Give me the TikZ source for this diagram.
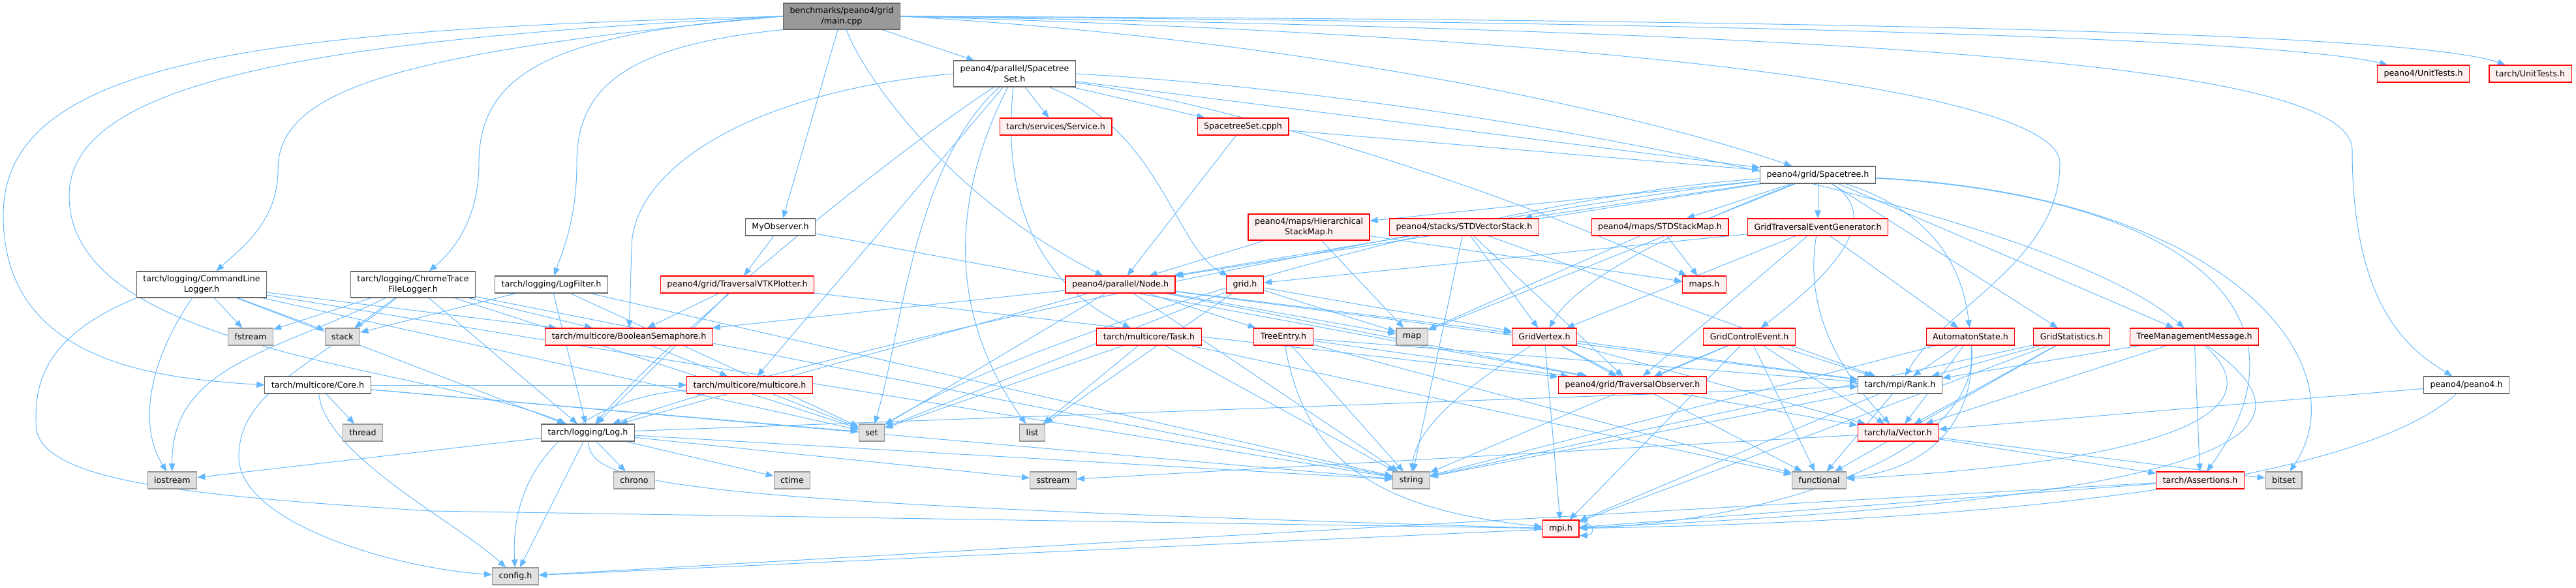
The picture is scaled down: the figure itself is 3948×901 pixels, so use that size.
\documentclass[tikz,border=0pt]{standalone}
\usepackage{fontspec}
\setmainfont{DejaVu Sans}
\usepackage{xcolor}
\usepackage{tikz}
\usetikzlibrary{arrows.meta,backgrounds}
\definecolor{edgeblue}{HTML}{63B8FF}
\definecolor{redfill}{HTML}{FFF0F0}
\definecolor{sysfill}{HTML}{E0E0E0}
\tikzset{
  basenode/.style={rectangle, line width=0.65pt, inner xsep=0.2cm, inner ysep=0pt, minimum height=0.52cm, align=center, font=\fontsize{7.2}{9.4}\selectfont},
  mainnode/.style={basenode, draw=black!60, fill=black!40},
  filenode/.style={basenode, draw=black!60, fill=white},
  incnode/.style={basenode, draw=red, fill=redfill},
  sysnode/.style={basenode, draw=black!40, fill=sysfill},
  twoline/.style={minimum height=0.8cm},
  dep/.style={-{Triangle[length=0.24cm,width=0.19cm]}, line width=0.55pt, draw=edgeblue, fill=none}
}

\begin{document}
\begin{tikzpicture}[x=0.02cm, y=-0.02cm]
\useasboundingbox (0,0) rectangle (3948,901);
\node[mainnode, twoline] (mainfile) at (1290,25) {benchmarks/peano4/grid\\/main.cpp};
\node[filenode, twoline] (sts) at (1555,113) {peano4/parallel/Spacetree\\Set.h};
\node[incnode] (service) at (1618,194) {tarch/services/Service.h};
\node[incnode] (stscpph) at (1905,194) {SpacetreeSet.cpph};
\node[filenode] (spacetree) at (2786,268) {peano4/grid/Spacetree.h};
\node[incnode] (punit) at (3714,113) {peano4/UnitTests.h};
\node[incnode] (tunit) at (3878,113) {tarch/UnitTests.h};
\node[filenode] (myobs) at (1196,348) {MyObserver.h};
\node[incnode, twoline] (hsm) at (2006,348) {peano4/maps/Hierarchical\\StackMap.h};
\node[incnode] (stdvs) at (2244,348) {peano4/stacks/STDVectorStack.h};
\node[incnode] (stdsm) at (2544,348) {peano4/maps/STDStackMap.h};
\node[incnode] (gteg) at (2786,348) {GridTraversalEventGenerator.h};
\node[filenode, twoline] (cll) at (309,436) {tarch/logging/CommandLine\\Logger.h};
\node[filenode, twoline] (ctl) at (633,436) {tarch/logging/ChromeTrace\\FileLogger.h};
\node[filenode] (logfilter) at (845,436) {tarch/logging/LogFilter.h};
\node[incnode] (vtk) at (1130,436) {peano4/grid/TraversalVTKPlotter.h};
\node[incnode] (node) at (1717,436) {peano4/parallel/Node.h};
\node[incnode] (gridh) at (1908,436) {grid.h};
\node[incnode] (mapsh) at (2612,436) {maps.h};
\node[sysnode] (fstream) at (384,516) {fstream};
\node[sysnode] (stack) at (525,516) {stack};
\node[incnode] (boolsem) at (964,516) {tarch/multicore/BooleanSemaphore.h};
\node[incnode] (task) at (1761,516) {tarch/multicore/Task.h};
\node[incnode] (treeentry) at (1967,516) {TreeEntry.h};
\node[sysnode] (map) at (2164,516) {map};
\node[incnode] (gridvertex) at (2367,516) {GridVertex.h};
\node[incnode] (gce) at (2681,516) {GridControlEvent.h};
\node[incnode] (automaton) at (3020,516) {AutomatonState.h};
\node[incnode] (gridstats) at (3175,516) {GridStatistics.h};
\node[incnode] (tmm) at (3363,516) {TreeManagementMessage.h};
\node[filenode] (core) at (487,590) {tarch/multicore/Core.h};
\node[incnode] (multicore) at (1149,590) {tarch/multicore/multicore.h};
\node[incnode] (observer) at (2502,590) {peano4/grid/TraversalObserver.h};
\node[filenode] (rank) at (2912,590) {tarch/mpi/Rank.h};
\node[filenode] (peanoh) at (3780,590) {peano4/peano4.h};
\node[sysnode] (thread) at (556,663) {thread};
\node[filenode] (log) at (901,663) {tarch/logging/Log.h};
\node[sysnode] (set) at (1336,663) {set};
\node[sysnode] (list) at (1582,663) {list};
\node[incnode] (vector) at (2909,663) {tarch/la/Vector.h};
\node[sysnode] (iostream) at (264,736) {iostream};
\node[sysnode] (chrono) at (972,736) {chrono};
\node[sysnode] (ctime) at (1214,736) {ctime};
\node[sysnode] (sstream) at (1614,736) {sstream};
\node[sysnode] (string) at (2163,736) {string};
\node[sysnode] (functional) at (2788,736) {functional};
\node[incnode] (assertions) at (3372,736) {tarch/Assertions.h};
\node[sysnode] (bitset) at (3500,736) {bitset};
\node[incnode] (mpi) at (2392,810) {mpi.h};
\node[sysnode] (config) at (790,883) {config.h};
\begin{pgfonlayer}{background}
\draw[dep] (mainfile.west) .. controls (400,45) and (5,90) .. (5,330) .. controls (5,560) and (250,580) .. (core.west);
\draw[dep] (mainfile.west) .. controls (500,60) and (106,120) .. (106,300) .. controls (106,540) and (650,560) .. (log);
\draw[dep] (mainfile.west) .. controls (600,80) and (426,140) .. (426,260) .. controls (426,340) and (370,380) .. (cll);
\draw[dep] (mainfile.west) .. controls (850,50) and (734,110) .. (734,250) .. controls (734,330) and (700,380) .. (ctl);
\draw[dep] (mainfile.south west) .. controls (950,70) and (884,140) .. (884,250) .. controls (884,340) and (860,390) .. (logfilter);
\draw[dep] (mainfile) -- (myobs);
\draw[dep] (mainfile) -- (sts);
\draw[dep] (mainfile) .. controls (1320,110) and (1450,300) .. (node);
\draw[dep] (mainfile.east) .. controls (2000,60) and (2500,170) .. (spacetree);
\draw[dep] (mainfile.east) .. controls (2700,35) and (3500,60) .. (punit);
\draw[dep] (mainfile.east) .. controls (2800,30) and (3700,50) .. (tunit);
\draw[dep] (mainfile.east) .. controls (2900,50) and (3605,100) .. (3605,230) .. controls (3605,480) and (3700,540) .. (peanoh);
\draw[dep] (mainfile.east) .. controls (2600,60) and (3157,150) .. (3157,250) .. controls (3157,400) and (2980,470) .. (rank);
\draw[dep] (sts) -- (service);
\draw[dep] (sts) -- (stscpph);
\draw[dep] (sts) -- (spacetree);
\draw[dep] (sts.west) .. controls (1150,140) and (968,260) .. (968,380) -- (boolsem);
\draw[dep] (sts) .. controls (1400,250) and (1380,520) .. (set);
\draw[dep] (sts) .. controls (1480,260) and (1430,450) .. (list);
\draw[dep] (sts) .. controls (1540,260) and (1560,420) .. (task);
\draw[dep] (sts) .. controls (1780,200) and (1800,380) .. (gridh);
\draw[dep] (sts) .. controls (1950,170) and (2400,330) .. (mapsh);
\draw[dep] (sts.east) .. controls (2300,150) and (3150,330) .. (tmm);
\draw[dep] (sts) .. controls (1360,240) and (1020,520) .. (log);
\draw[dep] (sts) -- (multicore);
\draw[dep] (stscpph) -- (node);
\draw[dep] (stscpph) -- (spacetree);
\draw[dep] (spacetree) -- (gteg);
\draw[dep] (spacetree) .. controls (2620,330) and (2420,420) .. (gridvertex);
\draw[dep] (spacetree) .. controls (2900,340) and (2780,440) .. (gce);
\draw[dep] (spacetree) .. controls (2980,330) and (3010,430) .. (automaton);
\draw[dep] (spacetree) -- (gridstats);
\draw[dep] (spacetree) -- (tmm);
\draw[dep] (spacetree) -- (hsm);
\draw[dep] (spacetree) -- (stdvs);
\draw[dep] (spacetree) -- (stdsm);
\draw[dep] (spacetree) -- (node);
\draw[dep] (spacetree) .. controls (3350,300) and (3560,480) .. (assertions);
\draw[dep] (spacetree) .. controls (3420,300) and (3620,560) .. (bitset);
\draw[dep] (spacetree) .. controls (2300,300) and (1600,500) .. (set);
\draw[dep] (spacetree) -- (map);
\draw[dep] (spacetree) .. controls (2300,320) and (1300,520) .. (log);
\draw[dep] (gteg) -- (gridh);
\draw[dep] (gteg) -- (gridvertex);
\draw[dep] (gteg) -- (automaton);
\draw[dep] (gteg) -- (observer);
\draw[dep] (gteg) .. controls (2760,500) and (2850,600) .. (vector);
\draw[dep] (node) -- (treeentry);
\draw[dep] (node) -- (boolsem);
\draw[dep] (node) -- (map);
\draw[dep] (node) -- (set);
\draw[dep] (node) -- (log);
\draw[dep] (node) -- (rank);
\draw[dep] (node) -- (observer);
\draw[dep] (node) -- (gridvertex);
\draw[dep] (node) -- (string);
\draw[dep] (gridh) -- (gridvertex);
\draw[dep] (gridh) -- (map);
\draw[dep] (gridh) -- (list);
\draw[dep] (gridh) -- (set);
\draw[dep] (hsm) -- (map);
\draw[dep] (hsm) -- (mapsh);
\draw[dep] (hsm) -- (node);
\draw[dep] (stdvs) -- (node);
\draw[dep] (stdvs) -- (gridvertex);
\draw[dep] (stdvs) -- (observer);
\draw[dep] (stdvs) -- (rank);
\draw[dep] (stdvs) -- (string);
\draw[dep] (stdsm) -- (mapsh);
\draw[dep] (stdsm) -- (map);
\draw[dep] (cll) -- (fstream);
\draw[dep] (cll) -- (stack);
\draw[dep] (cll) .. controls (230,550) and (210,650) .. (iostream);
\draw[dep] (cll) -- (boolsem);
\draw[dep] (cll) -- (log);
\draw[dep] (cll) -- (set);
\draw[dep] (cll) -- (string);
\draw[dep] (cll.south west) .. controls (55,520) and (55,600) .. (55,650) .. controls (55,740) and (300,760) .. (660,783) -- (mpi);
\draw[dep] (ctl) -- (fstream);
\draw[dep] (ctl) -- (stack);
\draw[dep] (ctl) .. controls (420,540) and (262,560) .. (iostream);
\draw[dep] (ctl) -- (boolsem);
\draw[dep] (ctl) -- (log);
\draw[dep] (ctl) -- (set);
\draw[dep] (ctl) -- (string);
\draw[dep] (ctl) .. controls (480,560) and (366,600) .. (366,700) .. controls (366,800) and (600,870) .. (config);
\draw[dep] (logfilter) -- (log);
\draw[dep] (logfilter) -- (stack);
\draw[dep] (logfilter) -- (set);
\draw[dep] (logfilter) -- (string);
\draw[dep] (myobs) -- (vtk);
\draw[dep] (myobs) -- (observer);
\draw[dep] (vtk) -- (boolsem);
\draw[dep] (vtk) -- (log);
\draw[dep] (vtk) -- (observer);
\draw[dep] (core) -- (thread);
\draw[dep] (core) .. controls (500,700) and (700,800) .. (config);
\draw[dep] (core) -- (string);
\draw[dep] (core) -- (multicore);
\draw[dep] (core) -- (set);
\draw[dep] (boolsem) -- (multicore);
\draw[dep] (multicore) .. controls (900,610) and (780,700) .. (config);
\draw[dep] (multicore) -- (set);
\draw[dep] (log) -- (chrono);
\draw[dep] (log) -- (ctime);
\draw[dep] (log) -- (config);
\draw[dep] (log) -- (iostream);
\draw[dep] (log) -- (sstream);
\draw[dep] (log) -- (string);
\draw[dep] (log) .. controls (905,740) and (1000,770) .. (mpi);
\draw[dep] (log) -- (rank);
\draw[dep] (task) -- (list);
\draw[dep] (task) -- (set);
\draw[dep] (task) -- (functional);
\draw[dep] (task) -- (string);
\draw[dep] (treeentry) -- (observer);
\draw[dep] (treeentry) -- (string);
\draw[dep] (treeentry) .. controls (2000,700) and (2100,780) .. (mpi);
\draw[dep] (treeentry) -- (functional);
\draw[dep] (treeentry) -- (rank);
\draw[dep] (gridvertex) -- (observer);
\draw[dep] (gridvertex) .. controls (2300,560) and (2170,640) .. (string);
\draw[dep] (gridvertex) -- (mpi);
\draw[dep] (gridvertex) -- (vector);
\draw[dep] (gridvertex) -- (rank);
\draw[dep] (gridvertex) -- (functional);
\draw[dep] (gce) -- (observer);
\draw[dep] (gce) -- (vector);
\draw[dep] (gce) -- (rank);
\draw[dep] (gce) -- (functional);
\draw[dep] (gce) -- (string);
\draw[dep] (gce) -- (mpi);
\draw[dep] (automaton) -- (rank);
\draw[dep] (automaton) -- (vector);
\draw[dep] (automaton) .. controls (3030,650) and (2950,720) .. (functional);
\draw[dep] (automaton) -- (string);
\draw[dep] (automaton) .. controls (3040,700) and (2700,800) .. (mpi);
\draw[dep] (gridstats) -- (rank);
\draw[dep] (gridstats) -- (vector);
\draw[dep] (gridstats) -- (functional);
\draw[dep] (gridstats) -- (string);
\draw[dep] (gridstats) -- (mpi);
\draw[dep] (tmm) -- (rank);
\draw[dep] (tmm) -- (vector);
\draw[dep] (tmm) -- (assertions);
\draw[dep] (tmm) .. controls (3460,600) and (3440,700) .. (functional);
\draw[dep] (tmm) .. controls (3540,640) and (3540,760) .. (mpi);
\draw[dep] (observer) -- (vector);
\draw[dep] (rank) -- (functional);
\draw[dep] (rank) -- (string);
\draw[dep] (rank) -- (mpi);
\draw[dep] (vector) -- (assertions);
\draw[dep] (vector) -- (bitset);
\draw[dep] (vector) -- (sstream);
\draw[dep] (assertions) -- (config);
\draw[dep] (assertions) -- (mpi);
\draw[dep] (peanoh) -- (vector);
\draw[dep] (peanoh) .. controls (3600,750) and (3000,800) .. (mpi);
\draw[dep] (mpi) -- (config);
\draw[dep] (mpi.20) to[out=0,in=0,looseness=3] (mpi.-20);
\end{pgfonlayer}
\end{tikzpicture}
\end{document}
